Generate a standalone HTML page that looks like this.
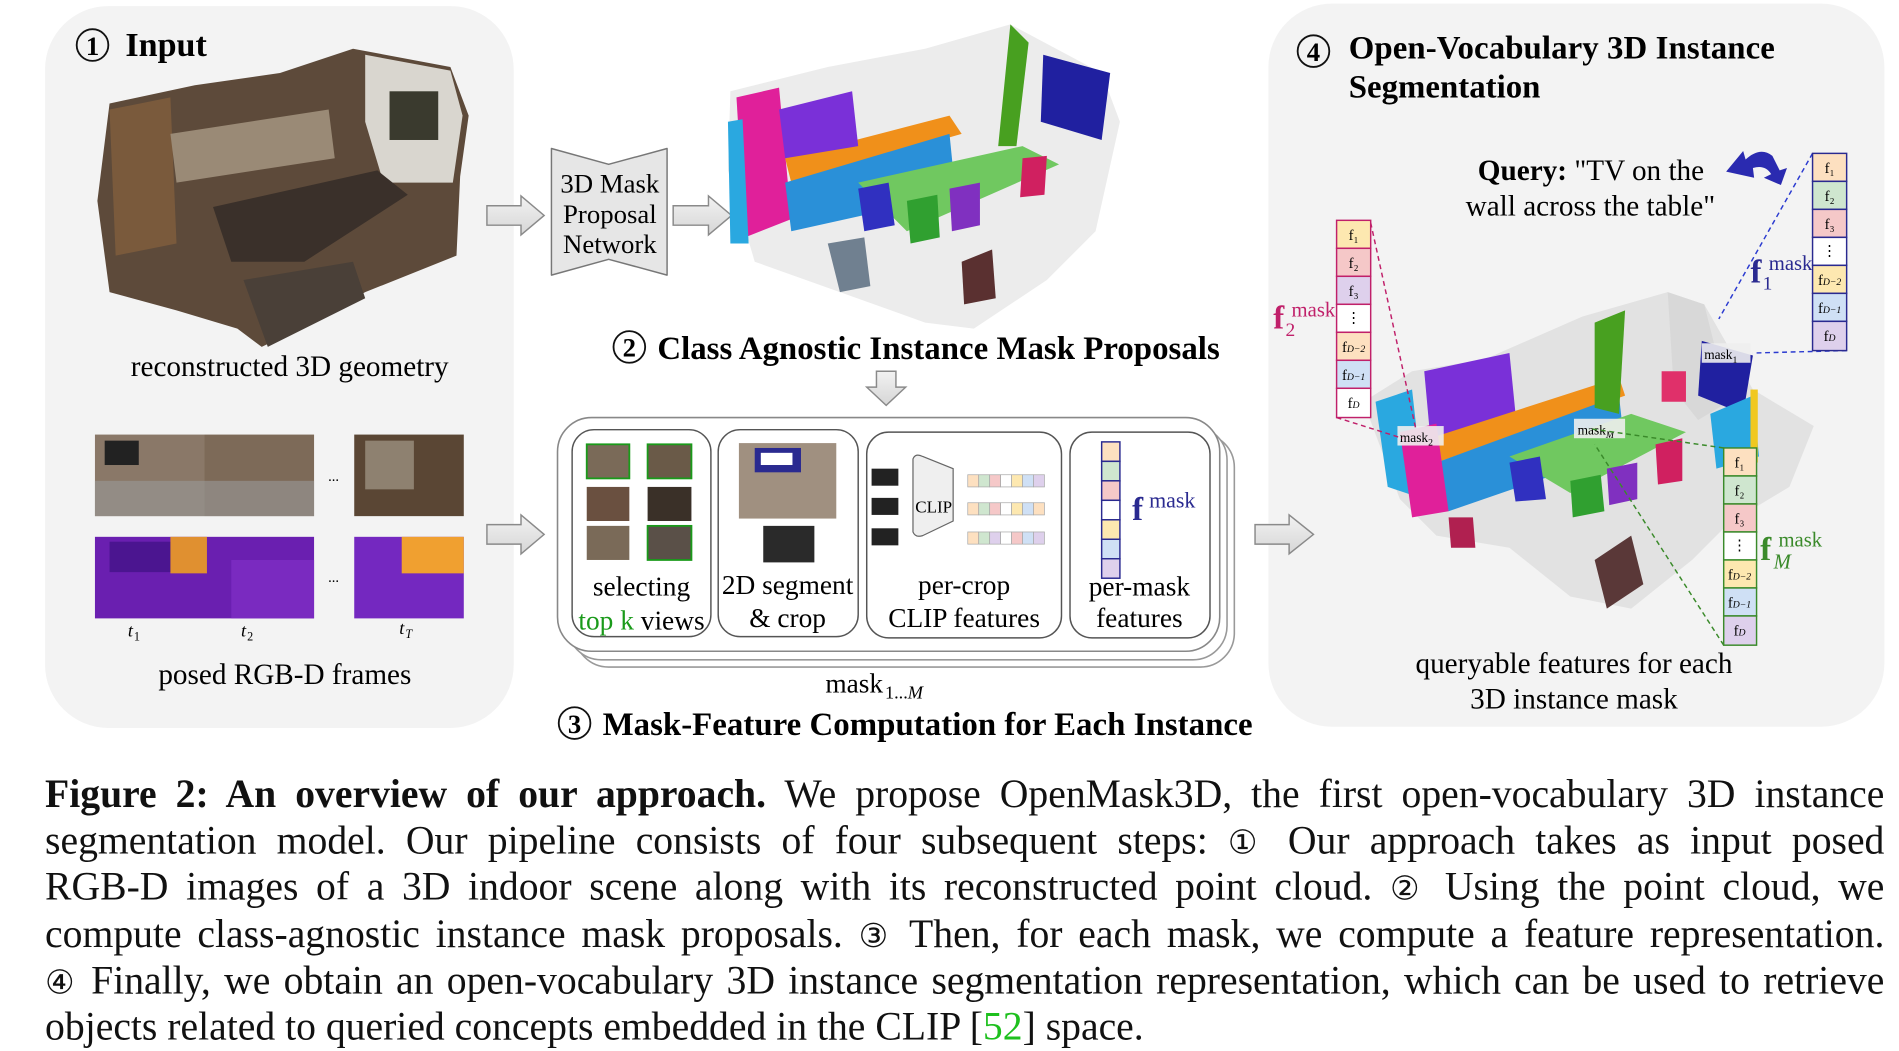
<!DOCTYPE html>
<html><head><meta charset="utf-8"><style>
html,body{margin:0;padding:0;background:#fff;width:1899px;height:1048px;overflow:hidden}
#w{position:absolute;left:0;top:0;width:1560px;height:861px;transform:scale(1.2173);transform-origin:0 0}
svg{position:absolute;left:0;top:0}
#cap{position:absolute;left:37px;top:634px;width:1511px;font-family:"Liberation Serif","DejaVu Serif",serif;font-size:32.6px;color:#111}
#cap div{height:38.2px;line-height:38px;white-space:nowrap;text-align:justify;text-align-last:justify}
#cap div.l{text-align-last:left}
.c{font-family:"DejaVu Serif",serif;font-size:27px}
text{font-family:"Liberation Serif",serif}
</style></head><body><div id="w">
<svg width="1560" height="634" viewBox="0 0 1560 634">
<defs>
<linearGradient id="ar" x1="0" y1="0" x2="0" y2="1"><stop offset="0" stop-color="#f2f2f2"/><stop offset="1" stop-color="#d6d6d6"/></linearGradient>
</defs>
<rect x="37" y="5" width="385" height="593" rx="52" fill="#f3f3f3"/>
<rect x="1042" y="3" width="506" height="594" rx="52" fill="#f3f3f3"/>
<circle cx="76" cy="37" r="13" fill="none" stroke="#111" stroke-width="1.5"/>
<text x="76" y="45" font-size="22" text-anchor="middle" font-weight="bold">1</text>
<text x="103" y="46" font-size="28" font-weight="bold">Input</text>
<polygon points="90,85 160,70 230,60 290,40 370,55 385,95 378,145 375,210 300,240 250,268 215,285 195,270 145,255 90,240 80,165" fill="#5d4a3a"/>
<polygon points="300,45 370,58 380,95 372,150 315,150 300,100" fill="#d9d6cf"/>
<rect x="320" y="75" width="40" height="40" fill="#3a3a2e"/>
<polygon points="175,170 310,140 335,160 250,215 190,215" fill="#3a302a"/>
<polygon points="90,90 140,80 145,200 95,210" fill="#7a5a3c"/>
<polygon points="140,110 270,90 275,130 145,150" fill="#9a8a76"/>
<polygon points="200,230 290,215 300,245 220,285" fill="#4a4038"/>
<text x="238" y="309" font-size="24" text-anchor="middle">reconstructed 3D geometry</text>
<rect x="78" y="357" width="90" height="67" fill="#8a7868"/><rect x="168" y="357" width="90" height="67" fill="#7d6a58"/>
<rect x="86" y="362" width="28" height="20" fill="#222"/><rect x="78" y="395" width="180" height="29" fill="#9a9a9a" opacity=".6"/>
<rect x="291" y="357" width="90" height="67" fill="#5a4634"/><rect x="300" y="362" width="40" height="40" fill="#b0a89a" opacity=".6"/>
<text x="274" y="395" font-size="12" text-anchor="middle">...</text>
<rect x="78" y="441" width="180" height="67" fill="#6a1fb0"/><rect x="90" y="445" width="60" height="25" fill="#4b1590"/>
<rect x="140" y="441" width="30" height="30" fill="#e09030"/><rect x="190" y="460" width="68" height="48" fill="#7a2ac0"/>
<rect x="291" y="441" width="90" height="67" fill="#7428c0"/><rect x="330" y="441" width="51" height="30" fill="#f0a030"/>
<text x="274" y="478" font-size="12" text-anchor="middle">...</text>
<text x="105" y="523" font-size="15" font-style="italic">t</text><text x="110" y="526" font-size="10">1</text>
<text x="198" y="523" font-size="15" font-style="italic">t</text><text x="203" y="526" font-size="10">2</text>
<text x="328" y="521" font-size="15" font-style="italic">t</text><text x="333" y="524" font-size="10" font-style="italic">T</text>
<text x="234" y="562" font-size="24" text-anchor="middle">posed RGB-D frames</text>
<g fill="url(#ar)" stroke="#8a8a8a" stroke-width="1.2">
<polygon points="400,169 428,169 428,161 447,177 428,193 428,185 400,185"/>
<polygon points="553,169 582,169 582,161 601,177 582,193 582,185 553,185"/>
<polygon points="400,431 428,431 428,423 447,439 428,455 428,447 400,447"/>
<polygon points="1031,431 1059,431 1059,423 1079,439 1059,455 1059,447 1031,447"/>
<polygon points="720,305 736,305 736,318 744,318 728,333 712,318 720,318"/>
</g>
<path d="M453,122 L500,135 L548,122 L548,226 L500,213 L453,226 Z" fill="#e6e6e6" stroke="#777" stroke-width="1.2" stroke-linejoin="round"/>
<text x="501" y="158" font-size="22" text-anchor="middle">3D Mask</text>
<text x="501" y="183" font-size="22" text-anchor="middle">Proposal</text>
<text x="501" y="208" font-size="22" text-anchor="middle">Network</text>
<polygon points="600,75 680,55 760,40 830,20 905,60 920,100 900,190 860,230 800,270 760,265 690,240 620,215 598,140" fill="#ececec"/>
<polygon points="605,80 640,72 650,180 612,195" fill="#e0209a"/>
<polygon points="598,100 610,98 615,200 600,200" fill="#2aa8e0"/>
<polygon points="645,130 780,95 790,110 650,150" fill="#f0901a"/>
<polygon points="645,150 780,110 785,160 650,190" fill="#2a90d8"/>
<polygon points="640,90 700,75 705,120 645,130" fill="#7a30d8"/>
<polygon points="830,20 845,35 835,120 820,120" fill="#48a020"/>
<polygon points="857,45 912,60 905,115 855,100" fill="#2020a0"/>
<polygon points="705,150 840,120 870,135 745,190" fill="#70c860"/>
<polygon points="705,155 730,150 735,185 710,190" fill="#3030c0"/>
<polygon points="745,165 770,160 772,195 748,200" fill="#30a030"/>
<polygon points="780,155 805,150 805,185 782,190" fill="#8030c0"/>
<polygon points="840,130 860,128 858,160 838,162" fill="#d02060"/>
<polygon points="680,200 710,195 715,235 690,240" fill="#708090"/>
<polygon points="790,215 815,205 818,245 792,250" fill="#5a3030"/>
<circle cx="517" cy="285" r="13" fill="none" stroke="#111" stroke-width="1.5"/>
<text x="517" y="293" font-size="22" text-anchor="middle" font-weight="bold">2</text>
<text x="540" y="295" font-size="27" font-weight="bold" textLength="462">Class Agnostic Instance Mask Proposals</text>
<rect x="472" y="356" width="542" height="192" rx="28" fill="#fff" stroke="#999" stroke-width="1.3"/>
<rect x="466" y="350" width="542" height="192" rx="28" fill="#fff" stroke="#999" stroke-width="1.3"/>
<rect x="458" y="343" width="544" height="192" rx="28" fill="#fff" stroke="#888" stroke-width="1.3"/>
<g fill="#fff" stroke="#555" stroke-width="1.2">
<rect x="470" y="353" width="114" height="170" rx="18"/>
<rect x="590" y="353" width="115" height="170" rx="18"/>
<rect x="712" y="355" width="160" height="169" rx="18"/>
<rect x="879" y="355" width="115" height="169" rx="18"/>
</g>
<g stroke="#1a9a1a" stroke-width="1.5"><rect x="482" y="365" width="35" height="28" fill="#7a6a58"/><rect x="532" y="365" width="36" height="28" fill="#6a5a48"/>
<rect x="532" y="432" width="36" height="28" fill="#5a5048"/></g>
<rect x="482" y="400" width="35" height="28" fill="#6a5040"/><rect x="532" y="400" width="36" height="28" fill="#3a3028"/><rect x="482" y="432" width="35" height="28" fill="#7a6a58"/>
<text x="527" y="489" font-size="22.5" text-anchor="middle">selecting</text>
<text x="527" y="517" font-size="22.5" text-anchor="middle"><tspan fill="#1a9a1a">top k</tspan> views</text>
<rect x="607" y="364" width="80" height="62" fill="#a09080"/><rect x="620" y="368" width="38" height="20" fill="#2a2a90"/><rect x="625" y="372" width="26" height="10" fill="#fff"/>
<rect x="627" y="432" width="42" height="30" fill="#2a2a2a"/>
<text x="647" y="488" font-size="22.5" text-anchor="middle">2D segment</text>
<text x="647" y="515" font-size="22.5" text-anchor="middle">&amp; crop</text>
<rect x="716" y="385" width="22" height="14" fill="#222"/><rect x="716" y="409" width="22" height="14" fill="#222"/><rect x="716" y="434" width="22" height="14" fill="#222"/>
<path d="M750,377 Q752,372 758,375 L783,385 L783,428 L758,440 Q752,442 750,437 Z" fill="#efefef" stroke="#666" stroke-width="1"/>
<text x="767" y="421" font-size="14" text-anchor="middle">CLIP</text>
<g stroke="#aaa" stroke-width=".6">
<g transform="translate(795,390)"><rect width="9" height="10" fill="#fde0c0"/><rect x="9" width="9" height="10" fill="#cfe6cf"/><rect x="18" width="9" height="10" fill="#f5c8c8"/><rect x="27" width="9" height="10" fill="#fff"/><rect x="36" width="9" height="10" fill="#fde8b0"/><rect x="45" width="9" height="10" fill="#cfe0f5"/><rect x="54" width="9" height="10" fill="#ded0ec"/></g>
<g transform="translate(795,413)"><rect width="9" height="10" fill="#fde0c0"/><rect x="9" width="9" height="10" fill="#cfe6cf"/><rect x="18" width="9" height="10" fill="#f5c8c8"/><rect x="27" width="9" height="10" fill="#fff"/><rect x="36" width="9" height="10" fill="#fde8b0"/><rect x="45" width="9" height="10" fill="#cfe0f5"/><rect x="54" width="9" height="10" fill="#fde0c0"/></g>
<g transform="translate(795,437)"><rect width="9" height="10" fill="#fde0c0"/><rect x="9" width="9" height="10" fill="#cfe6cf"/><rect x="18" width="9" height="10" fill="#ded0ec"/><rect x="27" width="9" height="10" fill="#fff"/><rect x="36" width="9" height="10" fill="#f5c8c8"/><rect x="45" width="9" height="10" fill="#cfe0f5"/><rect x="54" width="9" height="10" fill="#ded0ec"/></g>
</g>
<text x="792" y="488" font-size="22.5" text-anchor="middle">per-crop</text>
<text x="792" y="515" font-size="22.5" text-anchor="middle">CLIP features</text>
<g stroke="#2a2a90" stroke-width="1.2"><rect x="905" y="363" width="15" height="16" fill="#fde0c0"/><rect x="905" y="379" width="15" height="16" fill="#cfe6cf"/><rect x="905" y="395" width="15" height="16" fill="#f5c8c8"/><rect x="905" y="411" width="15" height="16" fill="#fff"/><rect x="905" y="427" width="15" height="16" fill="#fde8b0"/><rect x="905" y="443" width="15" height="16" fill="#cfe0f5"/><rect x="905" y="459" width="15" height="16" fill="#ded0ec"/></g>
<text x="930" y="427" font-size="27" font-weight="bold" fill="#2a2a90">f</text><text x="944" y="417" font-size="18" fill="#2a2a90">mask</text>
<text x="936" y="489" font-size="22.5" text-anchor="middle">per-mask</text>
<text x="936" y="515" font-size="22.5" text-anchor="middle">features</text>
<text x="678" y="569" font-size="22.5">mask</text><text x="727" y="574" font-size="15">1...<tspan font-style="italic">M</tspan></text>
<circle cx="472" cy="594" r="13" fill="none" stroke="#111" stroke-width="1.5"/>
<text x="472" y="602" font-size="22" text-anchor="middle" font-weight="bold">3</text>
<text x="495" y="604" font-size="27" font-weight="bold" textLength="534">Mask-Feature Computation for Each Instance</text>
<circle cx="1079" cy="42" r="13" fill="none" stroke="#111" stroke-width="1.5"/>
<text x="1079" y="50" font-size="22" text-anchor="middle" font-weight="bold">4</text>
<text x="1108" y="48" font-size="27" font-weight="bold" textLength="350">Open-Vocabulary 3D Instance</text>
<text x="1108" y="80" font-size="27" font-weight="bold">Segmentation</text>
<text x="1214" y="148" font-size="24"><tspan font-weight="bold">Query:</tspan> "TV on the</text>
<text x="1204" y="177" font-size="24">wall across the table"</text>
<path d="M1418,141 L1432,124 L1434,131 Q1446,120 1456,128 L1462,140 L1468,138 L1463,152 L1449,146 L1455,143 Q1450,135 1440,138 L1441,146 Z" fill="#2a2ab0"/>
<polygon points="1120,330 1160,305 1220,295 1300,260 1370,240 1400,250 1440,320 1490,350 1470,400 1420,430 1390,460 1340,500 1290,490 1240,450 1180,440 1150,410" fill="#e2e2e2"/>
<polygon points="1370,240 1400,250 1420,330 1395,345 1375,320" fill="#d8d8d8"/>
<polygon points="1130,330 1160,320 1170,410 1140,400" fill="#2aa8e0"/>
<polygon points="1170,305 1240,290 1245,340 1175,360" fill="#7a30d8"/>
<polygon points="1175,360 1330,310 1335,325 1180,380" fill="#f0901a"/>
<polygon points="1180,380 1330,325 1335,370 1190,420" fill="#2a90d8"/>
<polygon points="1150,355 1180,348 1190,420 1160,425" fill="#e0209a"/>
<polygon points="1310,265 1335,255 1330,340 1310,335" fill="#48a020"/>
<polygon points="1398,280 1440,292 1432,340 1395,325" fill="#2020a0"/>
<polygon points="1240,375 1340,340 1385,355 1290,405" fill="#70c860"/>
<polygon points="1240,380 1265,375 1270,410 1245,412" fill="#3030c0"/>
<polygon points="1290,395 1315,390 1318,420 1292,425" fill="#30a030"/>
<polygon points="1320,385 1345,380 1345,410 1322,415" fill="#8030c0"/>
<polygon points="1360,365 1382,360 1382,395 1362,398" fill="#d02060"/>
<polygon points="1365,305 1385,305 1385,330 1365,330" fill="#e0306a"/>
<polygon points="1405,340 1440,325 1445,375 1410,385" fill="#2aa8e0"/>
<rect x="1438" y="320" width="6" height="60" fill="#f0c820"/>
<polygon points="1310,460 1340,440 1350,480 1320,500" fill="#5a3838"/>
<polygon points="1190,425 1210,425 1212,450 1192,450" fill="#b02050"/>
<g font-size="11">
<rect x="1148" y="350" width="38" height="16" fill="#eee" opacity=".9"/><text x="1150" y="363">mask<tspan font-size="8" dy="3">2</tspan></text>
<rect x="1293" y="344" width="42" height="16" fill="#eee" opacity=".9"/><text x="1296" y="357">mask<tspan font-size="8" dy="3" font-style="italic">M</tspan></text>
<rect x="1398" y="282" width="40" height="16" fill="#eee" opacity=".9"/><text x="1400" y="295">mask<tspan font-size="8" dy="3">1</tspan></text>
</g>
<g fill="none" stroke-width="1.2" stroke-dasharray="4,3">
<path d="M1126,183 L1163,352 M1098,343 L1152,360" stroke="#c0206a"/>
<path d="M1489,126 L1412,262 M1517,288 L1440,290" stroke="#2a3ad0"/>
<path d="M1416,368 L1305,352 M1416,530 L1310,365" stroke="#3a8a2a"/>
</g>
<g font-size="12">
<g stroke="#c0206a" stroke-width="1.2"><rect x="1098" y="181" width="28" height="23" fill="#fde8b0"/><rect x="1098" y="204" width="28" height="23" fill="#f5c8c8"/><rect x="1098" y="227" width="28" height="23" fill="#ded0ec"/><rect x="1098" y="250" width="28" height="23" fill="#fff"/><rect x="1098" y="273" width="28" height="23" fill="#fde0c0"/><rect x="1098" y="296" width="28" height="23" fill="#cfe0f5"/><rect x="1098" y="319" width="28" height="24" fill="#fff"/></g>
<g stroke="#2a2a90" stroke-width="1.2"><rect x="1489" y="126" width="28" height="23" fill="#fde0c0"/><rect x="1489" y="149" width="28" height="23" fill="#cfe6cf"/><rect x="1489" y="172" width="28" height="23" fill="#f5c8c8"/><rect x="1489" y="195" width="28" height="23" fill="#fff"/><rect x="1489" y="218" width="28" height="23" fill="#fde8b0"/><rect x="1489" y="241" width="28" height="23" fill="#cfe0f5"/><rect x="1489" y="264" width="28" height="24" fill="#ded0ec"/></g>
<g stroke="#3a8a2a" stroke-width="1.2"><rect x="1416" y="368" width="27" height="23" fill="#fde0c0"/><rect x="1416" y="391" width="27" height="23" fill="#cfe6cf"/><rect x="1416" y="414" width="27" height="23" fill="#f5c8c8"/><rect x="1416" y="437" width="27" height="23" fill="#fff"/><rect x="1416" y="460" width="27" height="23" fill="#fde8b0"/><rect x="1416" y="483" width="27" height="23" fill="#cfe0f5"/><rect x="1416" y="506" width="27" height="24" fill="#ded0ec"/></g>
<g text-anchor="middle">
<text x="1112" y="197">f₁</text><text x="1112" y="220">f₂</text><text x="1112" y="243">f₃</text><text x="1112" y="265">⋮</text><text x="1112" y="289">f<tspan font-size="8" font-style="italic">D−2</tspan></text><text x="1112" y="312">f<tspan font-size="8" font-style="italic">D−1</tspan></text><text x="1112" y="335">f<tspan font-size="8" font-style="italic">D</tspan></text>
<text x="1503" y="142">f₁</text><text x="1503" y="165">f₂</text><text x="1503" y="188">f₃</text><text x="1503" y="210">⋮</text><text x="1503" y="234">f<tspan font-size="8" font-style="italic">D−2</tspan></text><text x="1503" y="257">f<tspan font-size="8" font-style="italic">D−1</tspan></text><text x="1503" y="280">f<tspan font-size="8" font-style="italic">D</tspan></text>
<text x="1429" y="384">f₁</text><text x="1429" y="407">f₂</text><text x="1429" y="430">f₃</text><text x="1429" y="452">⋮</text><text x="1429" y="476">f<tspan font-size="8" font-style="italic">D−2</tspan></text><text x="1429" y="499">f<tspan font-size="8" font-style="italic">D−1</tspan></text><text x="1429" y="522">f<tspan font-size="8" font-style="italic">D</tspan></text>
</g></g>
<text x="1046" y="270" font-size="27" font-weight="bold" fill="#c0206a">f</text><text x="1061" y="260" font-size="17" fill="#c0206a">mask</text><text x="1056" y="276" font-size="16" fill="#c0206a">2</text>
<text x="1438" y="232" font-size="27" font-weight="bold" fill="#2a2a90">f</text><text x="1453" y="222" font-size="17" fill="#2a2a90">mask</text><text x="1448" y="238" font-size="16" fill="#2a2a90">1</text>
<text x="1446" y="460" font-size="27" font-weight="bold" fill="#3a8a2a">f</text><text x="1461" y="449" font-size="17" fill="#3a8a2a">mask</text><text x="1457" y="467" font-size="17" font-style="italic" fill="#3a8a2a">M</text>
<text x="1293" y="553" font-size="24" text-anchor="middle">queryable features for each</text>
<text x="1293" y="582" font-size="24" text-anchor="middle">3D instance mask</text>
</svg>
<div id="cap">
<div><b>Figure 2: An overview of our approach.</b> We propose OpenMask3D, the first open-vocabulary 3D instance</div>
<div>segmentation model. Our pipeline consists of four subsequent steps: <span class="c">①</span> Our approach takes as input posed</div>
<div>RGB-D images of a 3D indoor scene along with its reconstructed point cloud. <span class="c">②</span> Using the point cloud, we</div>
<div>compute class-agnostic instance mask proposals. <span class="c">③</span> Then, for each mask, we compute a feature representation.</div>
<div><span class="c">④</span> Finally, we obtain an open-vocabulary 3D instance segmentation representation, which can be used to retrieve</div>
<div class="l">objects related to queried concepts embedded in the CLIP [<span style="color:#1ec01e">52</span>] space.</div>
</div>
</div></body></html>
